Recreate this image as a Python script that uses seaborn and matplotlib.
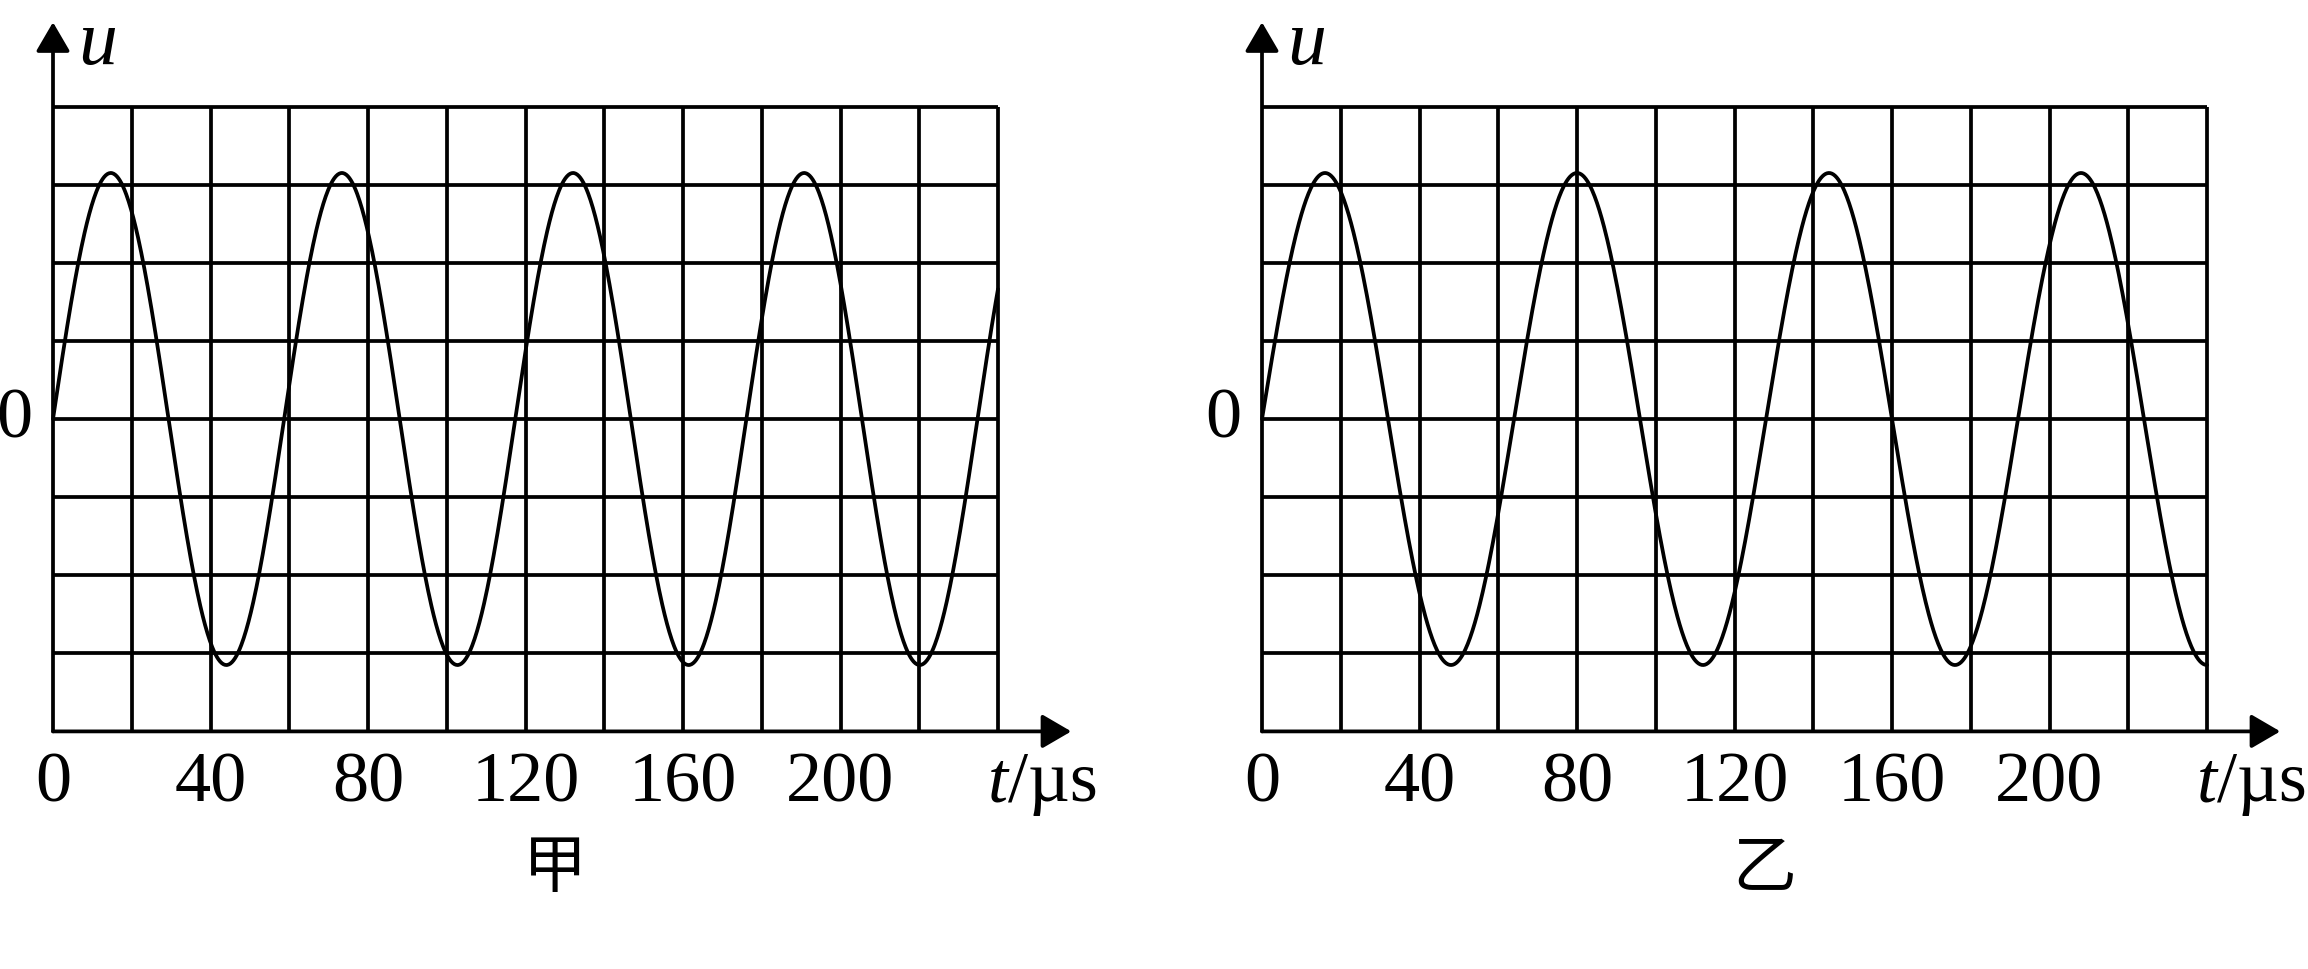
import numpy as np
import pandas as pd
import matplotlib
matplotlib.use("Agg")
import matplotlib.pyplot as plt
import seaborn as sns

# Values
panel_names = ["甲", "乙"]
amplitudes = [3.15, 3.15]          # in grid units
periods_us = [58.7, 64.0]          # period in microseconds
t_grid = list(range(0, 241, 20))   # vertical grid lines, µs
u_grid = list(range(-4, 5))        # horizontal grid lines
tick_values = [0, 40, 80, 120, 160, 200]
tick_labels = ["0", "40", "80", "120", "160", "200"]

sns.set_style("white")
plt.rcParams["font.family"] = ["Liberation Serif", "Noto Sans CJK SC", "DejaVu Sans"]
plt.rcParams["text.color"] = "black"

fig = plt.figure(figsize=(23.08, 9.70), dpi=100)
W, H = 2308, 970
px_per_us = 3.9375
px_per_u = 78.1
origins = [53, 1262]   # pixel x of t=0 for each panel
zero_y = 420           # pixel y (from top) of u=0
xlim = (-14, 265)
ylim = (-6.5, 5.3)

lw = 2.7
for name, amp, period, x0 in zip(panel_names, amplitudes, periods_us, origins):
    left = (x0 + xlim[0] * px_per_us) / W
    width = (xlim[1] - xlim[0]) * px_per_us / W
    top_px = zero_y - ylim[1] * px_per_u
    bot_px = zero_y - ylim[0] * px_per_u
    ax = fig.add_axes([left, 1 - bot_px / H, width, (bot_px - top_px) / H])
    ax.set_xlim(*xlim)
    ax.set_ylim(*ylim)
    ax.axis("off")

    # grid
    ax.vlines(t_grid[1:], -4, 4, color="k", lw=lw)
    ax.hlines(u_grid[1:], 0, 240, color="k", lw=lw)

    # axes with arrows
    ax.annotate("", xy=(0, 5.08), xytext=(0, -4),
                arrowprops=dict(arrowstyle="-|>,head_length=0.36,head_width=0.21",
                                mutation_scale=50, lw=lw, color="k",
                                shrinkA=0, shrinkB=0))
    ax.annotate("", xy=(258.6, -4), xytext=(0, -4),
                arrowprops=dict(arrowstyle="-|>,head_length=0.36,head_width=0.21",
                                mutation_scale=50, lw=lw, color="k",
                                shrinkA=0, shrinkB=0))

    # waveform
    t = np.linspace(0, 240, 1200)
    df = pd.DataFrame({"t": t, "u": amp * np.sin(2 * np.pi * t / period)})
    sns.lineplot(data=df, x="t", y="u", ax=ax, color="k", lw=lw, sort=False)

    # labels
    for v, lab in zip(tick_values, tick_labels):
        ax.text(v, -4.66, lab, ha="center", va="center", fontsize=52)
    ax.text(-5.3, 0, "0", ha="right", va="center", fontsize=52)
    ax.text(6.5, 4.8, "u", ha="left", va="center", fontsize=56, style="italic")
    ax.text(242.5, -4.66, "t", ha="right", va="center", fontsize=52, style="italic")
    ax.text(242.5, -4.66, "/µs", ha="left", va="center", fontsize=52)
    ax.text(127.5, -5.75, name, ha="center", va="center", fontsize=46,
            family=["Noto Sans CJK SC", "DejaVu Sans"])

fig.savefig("out.png", dpi=100)
